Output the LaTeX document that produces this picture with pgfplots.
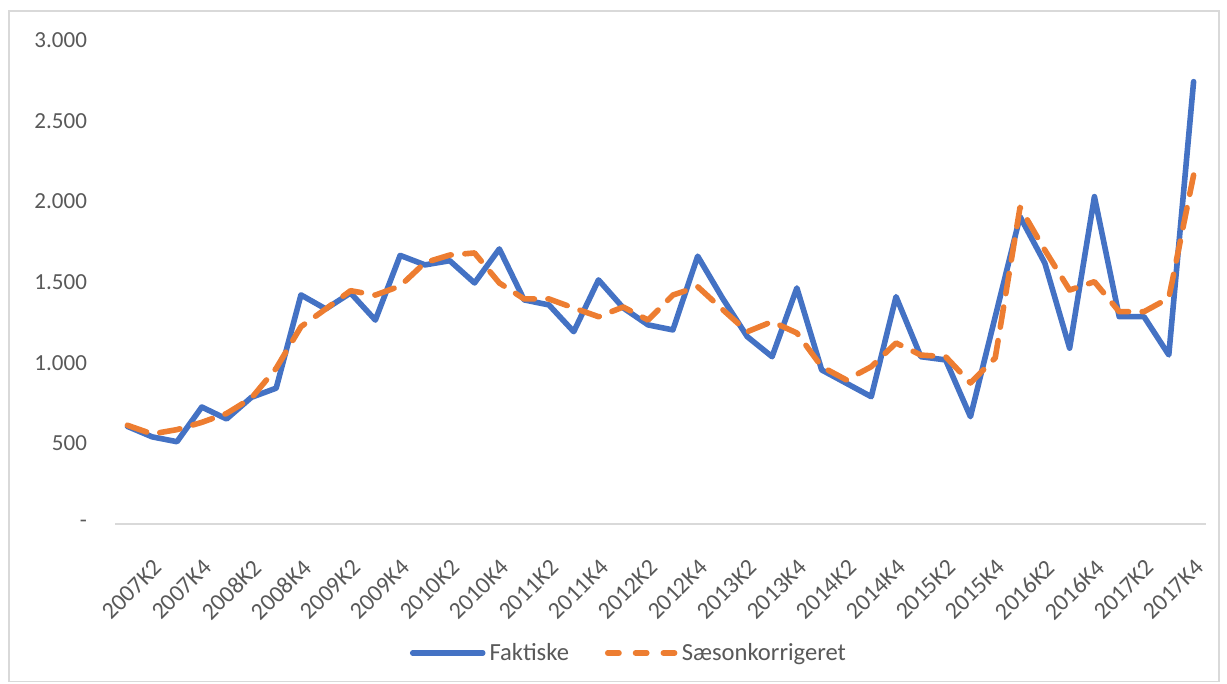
\documentclass[border=0pt]{standalone}
\usepackage{fontspec}
\setmainfont{Carlito}
\usepackage{pgfplots}
\pgfplotsset{compat=1.18}
\definecolor{cblue}{HTML}{4472C4}
\definecolor{corange}{HTML}{ED7D31}
\definecolor{ctext}{HTML}{595959}
\definecolor{cgrid}{HTML}{D9D9D9}
\pgfplotsset{orangelegend/.style={legend image code/.code={\draw[#1, dash pattern=on 5.6pt off 8.3pt] (1.4pt,0pt) -- (35pt,0pt);}}}
\begin{document}
\begin{tikzpicture}
\useasboundingbox (0,0) rectangle (613.5pt,342pt);
\draw[cgrid, line width=0.75pt] (4.5pt,1.25pt) rectangle (609.5pt,336.5pt);
\begin{axis}[
  at={(57.5pt,80pt)}, anchor=south west,
  scale only axis, width=545.5pt, height=242pt,
  xmin=-0.5, xmax=43.5, ymin=0, ymax=3000,
  axis lines*=left,
  x axis line style={cgrid, line width=0.75pt},
  y axis line style={draw=none},
  major tick length=0pt,
  xtick={0,2,...,42},
  xticklabels={2007K2,2007K4,2008K2,2008K4,2009K2,2009K4,2010K2,2010K4,2011K2,2011K4,2012K2,2012K4,2013K2,2013K4,2014K2,2014K4,2015K2,2015K4,2016K2,2016K4,2017K2,2017K4},
  ytick={0,500,1000,1500,2000,2500,3000},
  yticklabels={-,500,1.000,1.500,2.000,2.500,3.000},
  tick label style={font=\fontsize{11.5}{13}\selectfont, text=ctext},
  yticklabel style={xshift=-10.5pt},
  xticklabel style={font=\fontsize{12}{13}\selectfont, xshift=12.5pt, yshift=-12pt, rotate=45, anchor=north east},
  legend style={draw=none, at={(0.472,-0.2665)}, anchor=center, legend columns=2,
    font=\fontsize{12.3}{14}\selectfont, text=ctext,
    /tikz/every even column/.append style={column sep=16pt}},
  legend image code/.code={\draw[#1] (0pt,0pt) -- (35pt,0pt);},
]
\addplot[cblue, line width=2.8pt, line join=round, line cap=round] coordinates {
(0,605) (1,540) (2,510) (3,725) (4,651) (5,785) (6,842) (7,1420) (8,1333) (9,1432)
(10,1264) (11,1665) (12,1606) (13,1632) (14,1494) (15,1705) (16,1389) (17,1358) (18,1192) (19,1513)
(20,1339) (21,1234) (22,1203) (23,1660) (24,1400) (25,1161) (26,1037) (27,1463) (28,955) (29,872)
(30,789) (31,1409) (32,1037) (33,1017) (34,665) (35,1285) (36,1905) (37,1617) (38,1090) (39,2029)
(40,1285) (41,1285) (42,1048) (43,2742)
};
\addlegendentry{Faktiske}
\addplot[corange, line width=2.8pt, line join=round, line cap=round, dash pattern=on 10.2pt off 6.8pt, orangelegend] coordinates {
(0,612) (1,558) (2,585) (3,630) (4,685) (5,780) (6,965) (7,1223) (8,1333) (9,1446)
(10,1419) (11,1475) (12,1620) (13,1667) (14,1680) (15,1494) (16,1395) (17,1395) (18,1339) (19,1285)
(20,1345) (21,1264) (22,1419) (23,1471) (24,1330) (25,1192) (26,1254) (27,1184) (28,975) (29,893)
(30,975) (31,1122) (32,1047) (33,1037) (34,874) (35,1030) (36,1963) (37,1698) (38,1450) (39,1502)
(40,1316) (41,1316) (42,1400) (43,2163)
};
\addlegendentry{Sæsonkorrigeret}
\end{axis}
\end{tikzpicture}
\end{document}
